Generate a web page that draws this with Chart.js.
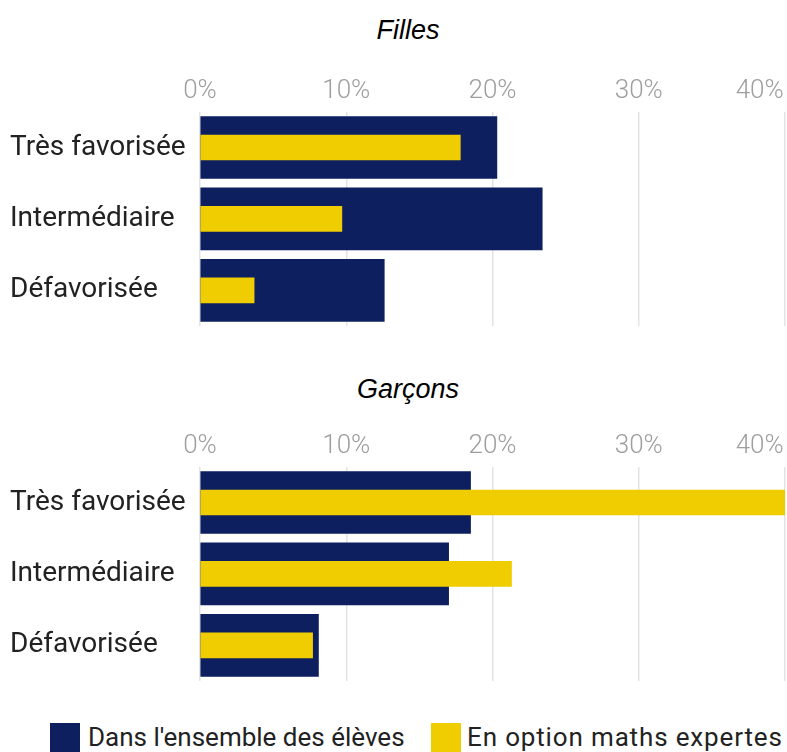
<!DOCTYPE html>
<html lang="fr">
<head>
  <meta charset="UTF-8">
  <script src="https://cdn.jsdelivr.net/npm/chart.js"></script>
  <title>Filles / Garçons - maths expertes</title>
  <style>
    body { margin: 0; background: #fff; width: 787px; height: 752px; overflow: hidden; position: relative; font-family: Roboto, sans-serif; }
    canvas { position: absolute; left: 0; }
    #filles { top: 0; }
    #garcons { top: 355px; }
    .titre { position: absolute; left: 0; width: 816px; text-align: center; height: 27px; line-height: 27px;
             font: italic 27px "Liberation Sans", Arial, sans-serif; color: #000; }
    .key { position: absolute; top: 723px; height: 29px; line-height: 29px; font-size: 26px; color: #222; white-space: nowrap; }
    .box { position: absolute; top: 723px; width: 30px; height: 29px; }
  </style>
</head>
<body>
  <div class="titre" style="top:15px">Filles</div>
  <canvas id="filles" width="787" height="355"></canvas>
  <div class="titre" style="top:374px">Garçons</div>
  <canvas id="garcons" width="787" height="355"></canvas>

  <div class="box" style="left:50px;background:#0d1f5f"></div>
  <div class="key" style="left:88px">Dans l'ensemble des élèves</div>
  <div class="box" style="left:431px;background:#efcd00"></div>
  <div class="key" style="left:467px;letter-spacing:0.85px">En option maths expertes</div>

  <script>
    const categories = ["Très favorisée", "Intermédiaire", "Défavorisée"];
    const xTicks = [0, 10, 20, 30, 40];

    // part des élèves (%), par origine sociale
    const fillesEnsemble = [20.3, 23.4, 12.6];
    const fillesExpertes = [17.8, 9.7, 3.7];
    const garconsEnsemble = [18.5, 17.0, 8.1];
    const garconsExpertes = [40.0, 21.3, 7.7];

    const NAVY = "#0d1f5f";
    const YELLOW = "#efcd00";

    function makeChart(id, ensemble, expertes) {
      return new Chart(document.getElementById(id), {
        type: "bar",
        data: {
          labels: categories,
          datasets: [
            { label: "Dans l'ensemble des élèves", data: ensemble, backgroundColor: NAVY, barThickness: 62, grouped: false, order: 2 },
            { label: "En option maths expertes", data: expertes, backgroundColor: YELLOW, barThickness: 25, grouped: false, order: 1 }
          ]
        },
        options: {
          indexAxis: "y",
          responsive: false,
          animation: false,
          layout: { padding: { left: 10, right: 2, top: 53.2, bottom: 29 } },
          plugins: {
            legend: { display: false },
            tooltip: { enabled: false }
          },
          scales: {
            x: {
              position: "top",
              min: 0,
              max: 40,
              afterBuildTicks: s => { s.ticks = xTicks.map(v => ({ value: v })); },
              afterFit: s => { s.paddingLeft = 0; s.paddingRight = 0; s.height = 58.6; },
              ticks: {
                // trailing spaces pull the last label back inside the canvas
                callback: v => v === 40 ? v + "%        " : v + "%",
                color: "#9e9e9e",
                font: { family: "Roboto", size: 26, weight: 300 },
                padding: 5
              },
              grid: { color: "#e3e3e3", lineWidth: 1.5, drawTicks: false },
              border: { display: false }
            },
            y: {
              afterFit: s => { s.width = 190; },
              ticks: { color: "#222", font: { family: "Roboto", size: 28 }, crossAlign: "far" },
              grid: { display: false, drawTicks: false },
              border: { display: false }
            }
          }
        }
      });
    }

    makeChart("filles", fillesEnsemble, fillesExpertes);
    makeChart("garcons", garconsEnsemble, garconsExpertes);
  </script>
</body>
</html>
